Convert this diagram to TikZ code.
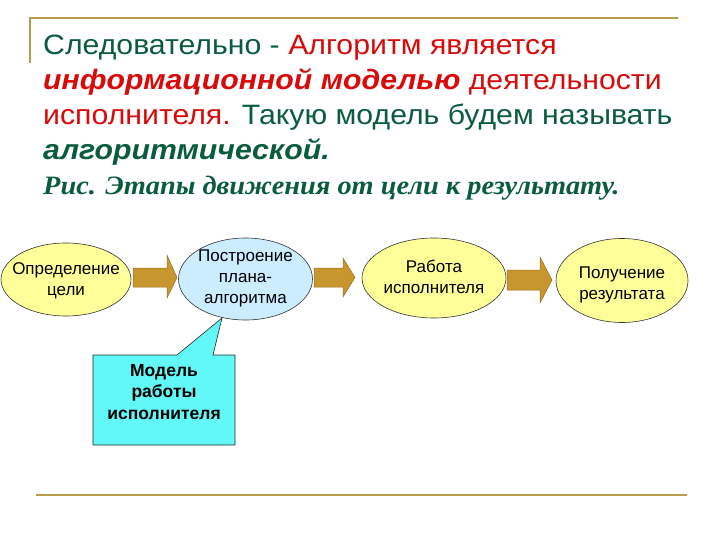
\documentclass[tikz,border=0pt]{standalone}
\usepackage{fontspec}
\setmainfont{Liberation Sans}
\newfontfamily\headfont[FakeStretch=1.08]{Liberation Sans}
\newfontfamily\capfont[FakeStretch=1.07]{Liberation Serif}
\usetikzlibrary{shapes.geometric}
\definecolor{hgreen}{HTML}{0A5C3C}
\definecolor{hred}{HTML}{D80A0A}
\definecolor{gline}{HTML}{B89C4C}
\definecolor{yfill}{HTML}{FFFF99}
\definecolor{bfill}{HTML}{CCECFF}
\definecolor{cfill}{HTML}{62F8F8}
\definecolor{afill}{HTML}{C8962E}
\definecolor{aline}{HTML}{9A7020}
\tikzset{
  headline/.style={anchor=base west, inner sep=0pt, font=\headfont\fontsize{28}{34}\selectfont},
  stage/.style={ellipse, draw=black!80, line width=0.6pt, inner sep=0pt},
  stagetext/.style={align=center, inner sep=0pt, font=\fontsize{17}{21}\selectfont},
  blockarrow/.style={fill=afill, draw=aline, line width=0.5pt},
  rule/.style={draw=gline, line width=2pt},
}
\begin{document}
\begin{tikzpicture}[x=1pt,y=-1pt]
\useasboundingbox (0,0) rectangle (720,540);
% frame lines
\draw[rule] (30,63) -- (30,18) -- (678,18);
\draw[rule] (36,495) -- (687,495);
% heading text
\node[headline] (l1) at (43,55) {\textcolor{hgreen}{Следовательно -} \textcolor{hred}{Алгоритм является}};
\node[headline] (l2) at (43,90) {\textcolor{hred}{\textbf{\textit{информационной моделью}} деятельности}};
\node[headline] (l3) at (43,125) {\textcolor{hred}{исполнителя.} \textcolor{hgreen}{Такую модель будем называть}};
\node[headline] (l4) at (43,160) {\textcolor{hgreen}{\textbf{\textit{алгоритмической.}}}};
\node[anchor=base west, inner sep=0pt, font=\capfont\bfseries\itshape\fontsize{26.5}{30}\selectfont, text=hgreen]
  (cap) at (43,195) {Рис. Этапы движения от цели к результату.};
% stages
\node[stage, fill=yfill, minimum width=130pt, minimum height=73pt] (s1) at (66,279.5) {};
\node[stagetext] (t1) at (66,281) {Определение\\цели};
\node[stage, fill=bfill, minimum width=134pt, minimum height=82pt] (s2) at (245.5,279) {};
\node[stagetext] (t2) at (245.5,278) {Построение\\плана-\\алгоритма};
\node[stage, fill=yfill, minimum width=144pt, minimum height=80pt] (s3) at (434,278) {};
\node[stagetext] (t3) at (434,277) {Работа\\исполнителя};
\node[stage, fill=yfill, minimum width=132pt, minimum height=84pt] (s4) at (622,280.5) {};
\node[stagetext] (t4) at (622,285) {Получение\\результата};
% block arrows
\draw[blockarrow] (133,268) -- (167,268) -- (167,255) -- (177,277.5) -- (167,298) -- (167,287) -- (133,287) -- cycle;
\draw[blockarrow] (314,268) -- (343,268) -- (343,258) -- (355,277.5) -- (343,297) -- (343,287) -- (314,287) -- cycle;
\draw[blockarrow] (507,270) -- (540,270) -- (540,257) -- (552,280) -- (540,303) -- (540,290) -- (507,290) -- cycle;
% callout
\coordinate (tip) at (222,318);
\draw[fill=cfill, draw=black!85, line width=0.6pt]
  (93,355) -- (177,355) -- (tip) -- (213,355) -- (235,355) -- (235,445) -- (93,445) -- cycle;
\node[align=center, inner sep=0pt, font=\bfseries\fontsize{17.5}{21.5}\selectfont] (model) at (164,392) {Модель\\работы\\исполнителя};
\end{tikzpicture}
\end{document}
